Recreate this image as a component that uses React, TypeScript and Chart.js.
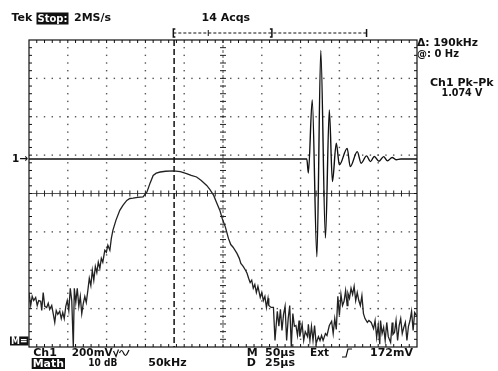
import { useEffect, useRef } from "react";
import { Chart, registerables } from "chart.js";

Chart.register(...registerables);

// ---- Ch1 time trace (µs, mV), 50 µs/div, 200 mV/div ----
const ch1TimeUs = [0, 358, 360, 365, 371, 376, 382, 387, 391, 396, 400, 410, 414, 423, 428, 435, 440, 445, 451, 457, 462, 468, 473, 479, 500];
const ch1mV = [0, 0, -73, 308, -510, 565, -412, 256, -118, 82, -31, 55, -40, 38, -22, 16, -14, 13, -12, 12, -10, 8, -4, 0, 0];

// ---- Math FFT trace (kHz, dB), 50 kHz/div, 10 dB/div ----
const mathKHz = [
  0, 2.2, 4.1, 6.1, 8.6, 10.6, 12.5, 15.1, 16.4, 18.3, 20.3, 22.8, 24.8, 26.7, 29.3, 31.2, 33.2, 35.1, 37.1, 39.6,
  41.6, 43.5, 45.4, 47.4, 49.3, 51.3, 53.2, 55.1, 57.1, 58.4, 60.3, 62.2, 64.2, 66.1, 68.0, 70.0, 71.9, 73.8, 75.8, 77.7,
  79.7, 81.6, 83.5, 85.5, 87.4, 89.3, 91.3, 93.2, 95.1, 97.7, 99.7, 101.6, 104.2, 106.1, 108.1, 112, 117, 121, 126, 130,
  134, 140, 147, 152, 156, 160, 164, 169, 176, 186, 195, 203, 209, 216, 222, 229, 233, 238, 241, 246,
  249, 253, 257, 260, 263, 268, 271, 273, 276, 279, 281, 283, 285, 287, 289, 291, 293, 295, 298, 300,
  302, 304, 306, 308, 309, 312, 315, 317, 319, 320, 322, 324, 326, 328, 330, 332, 334, 336, 338, 340,
  342, 344, 346, 348, 349, 352, 354, 356, 359, 360, 362, 364, 366, 368, 370, 373, 375, 377, 379, 382,
  384, 387, 390, 392, 394, 396, 398, 400, 402, 404, 406, 408, 410, 411, 413, 415, 417, 419, 421, 423,
  425, 427, 429, 431, 433, 436, 438, 441, 444, 446, 448, 450, 452, 453, 455, 457, 459, 461, 463, 466,
  468, 469, 471, 473, 475, 477, 479, 481, 483, 485, 487, 489, 491, 493, 495, 497, 500,
];
const mathDb = [
  12.5, 9.1, 11.5, 10.4, 11.2, 9.1, 10.4, 10.2, 7.8, 12.5, 8.9, 8.6, 9.7, 8.1, 9.1, 7.0, 4.7, 7.8, 6.8, 7.6,
  5.7, 7.3, 5.7, 8.9, 10.4, 7.8, 13.6, 10.4, -1.8, 13.6, 9.9, 13.6, 8.9, 11.5, 7.0, 9.7, 11.5, 9.9, 13.0, 16.2,
  14.3, 18.3, 15.7, 19.3, 17.7, 20.4, 18.8, 21.4, 20.4, 23.5, 23.0, 24.8, 23.5, 26.6, 28.7, 31.3, 33.9, 35.2, 36.5, 37.0,
  37.1, 37.3, 37.4, 38.7, 41.0, 43.0, 43.6, 43.9, 44.1, 44.2, 44.0, 43.5, 43.0, 42.6, 41.7, 40.4, 39.4, 37.8, 36.3, 33.9,
  31.8, 29.6, 26.6, 25.0, 24.3, 22.7, 21.4, 20.1, 19.3, 18.3, 17.5, 16.2, 15.1, 15.7, 13.6, 14.6, 12.5, 14.1, 11.2, 12.5,
  10.4, 11.5, 8.6, 11.0, 9.1, 8.6, 8.6, 0, 5.2, 7.6, 3.7, 8.1, 2.6, 6.8, 8.9, 0, 5.7, 9.1, -1.6, 7.0,
  3.7, 3.9, 1.3, 5.2, 1.0, 4.2, 0, 2.3, 1.0, 4.2, 0, 3.7, 0, 3.9, -0.8, 1.0, 0, 1.3, 0, 1.8,
  1.3, 3.9, 5.0, 1.8, 5.7, 2.9, 11.5, 6.5, 12.0, 9.1, 10.2, 13.0, 9.1, 12.3, 11.0, 13.6, 12.0, 14.1, 10.4, 12.5,
  10.4, 9.1, 11.7, 7.0, 5.7, 4.7, 5.2, 4.7, 3.1, 5.2, 0.8, 3.9, -1.0, 5.2, 1.8, 3.4, 0, 4.7, 1.0, -0.5,
  4.7, 1.6, 2.1, 5.2, 0, 3.9, 5.7, 1.8, 3.4, 4.7, 0, 3.7, 5.2, 7.6, 2.6, 7.3, 6.3,
];

// ---- Axis ranges (10 div horizontal, 8 div vertical) ----
const timeRangeUs = [0, 500];
const freqRangeKHz = [0, 500];
const ch1RangeMv = [-980, 620];
const mathRangeDb = [-1.7, 78.3];
const cursorKHz = 187;
// record-view bar markers (µs along the record)
const recordBarUs = [186, 231, 313, 435];

const FONT = "bold 11px 'DejaVu Sans', sans-serif";

const scopePlugin = {
  id: "tekScope",
  beforeDatasetsDraw(chart: any) {
    const { ctx, chartArea: a } = chart;
    const L = a.left, R = a.right, T = a.top, B = a.bottom;
    const dx = (R - L) / 10, dy = (B - T) / 8;
    ctx.save();
    ctx.fillStyle = "#555";
    for (let i = 1; i < 10; i++) {
      if (i === 5) continue;
      const x = L + i * dx;
      for (let k = 1; k < 40; k++) ctx.fillRect(x - 0.7, T + (k * dy) / 5 - 0.7, 1.4, 1.4);
    }
    for (let j = 1; j < 8; j++) {
      if (j === 4) continue;
      const y = T + j * dy;
      for (let k = 1; k < 50; k++) ctx.fillRect(L + (k * dx) / 5 - 0.7, y - 0.7, 1.4, 1.4);
    }
    const cx = L + 5 * dx, cy = T + 4 * dy;
    ctx.strokeStyle = "#555";
    ctx.lineWidth = 1;
    ctx.beginPath();
    ctx.moveTo(L, cy); ctx.lineTo(R, cy);
    ctx.stroke();
    ctx.setLineDash([3, 2]);
    ctx.beginPath();
    ctx.moveTo(cx, T); ctx.lineTo(cx, B);
    ctx.stroke();
    ctx.setLineDash([]);
    ctx.strokeStyle = "#222";
    ctx.beginPath();
    for (let k = 1; k < 50; k++) {
      const x = L + (k * dx) / 5;
      ctx.moveTo(x, cy - 3); ctx.lineTo(x, cy + 3);
    }
    for (let k = 1; k < 40; k++) {
      const y = T + (k * dy) / 5;
      ctx.moveTo(cx - 3, y); ctx.lineTo(cx + 3, y);
    }
    ctx.stroke();
    ctx.strokeStyle = "#111";
    ctx.lineWidth = 1.2;
    ctx.strokeRect(L, T, R - L, B - T);
    ctx.lineWidth = 1;
    ctx.beginPath();
    for (let k = 1; k < 50; k++) {
      const x = L + (k * dx) / 5;
      ctx.moveTo(x, T); ctx.lineTo(x, T + 3);
      ctx.moveTo(x, B); ctx.lineTo(x, B - 3);
    }
    for (let k = 1; k < 40; k++) {
      const y = T + (k * dy) / 5;
      ctx.moveTo(L, y); ctx.lineTo(L + 3, y);
      ctx.moveTo(R, y); ctx.lineTo(R - 3, y);
    }
    ctx.stroke();
    const xc = chart.scales.xf.getPixelForValue(cursorKHz);
    ctx.strokeStyle = "#111";
    ctx.lineWidth = 1.5;
    ctx.setLineDash([6, 3]);
    ctx.beginPath();
    ctx.moveTo(xc, T); ctx.lineTo(xc, B);
    ctx.stroke();
    ctx.setLineDash([]);
    ctx.restore();
  },
  afterDraw(chart: any) {
    const { ctx, chartArea: a } = chart;
    const T = a.top;
    const xs = chart.scales.x;
    ctx.save();
    const [b0, bm, b1, b2] = recordBarUs.map((v) => xs.getPixelForValue(v));
    const by = T - 7;
    ctx.strokeStyle = "#111";
    ctx.lineWidth = 1;
    ctx.setLineDash([3, 2]);
    ctx.beginPath();
    ctx.moveTo(b0, by); ctx.lineTo(b2, by);
    ctx.stroke();
    ctx.setLineDash([]);
    ctx.lineWidth = 1.5;
    ctx.beginPath();
    ctx.moveTo(b0 + 2, by - 4); ctx.lineTo(b0, by - 4); ctx.lineTo(b0, by + 4); ctx.lineTo(b0 + 2, by + 4);
    ctx.moveTo(b1 - 2, by - 4); ctx.lineTo(b1, by - 4); ctx.lineTo(b1, by + 4); ctx.lineTo(b1 - 2, by + 4);
    ctx.moveTo(b2, by - 4); ctx.lineTo(b2, by + 4);
    ctx.stroke();
    ctx.lineWidth = 1;
    ctx.beginPath();
    ctx.moveTo(bm, by - 3); ctx.lineTo(bm, by + 3);
    ctx.stroke();

    ctx.font = FONT;
    ctx.textBaseline = "middle";
    ctx.textAlign = "left";
    const txt = (s: string, x: number, y: number, w?: number) => {
      ctx.fillStyle = "#111";
      if (w) ctx.fillText(s, x, y, w); else ctx.fillText(s, x, y);
    };
    const boxed = (s: string, x0: number, x1: number, y0: number, y1: number) => {
      ctx.fillStyle = "#111";
      ctx.fillRect(x0, y0, x1 - x0, y1 - y0);
      ctx.fillStyle = "#fff";
      ctx.fillText(s, x0 + 1, (y0 + y1) / 2 + 0.5, x1 - x0 - 2);
    };
    txt("Tek", 11.5, 18.5);
    boxed("Stop:", 36.5, 68.5, 12.5, 24.5);
    txt("2MS/s", 74, 18.5);
    txt("14 Acqs", 201.5, 18.5);
    txt("\u0394: 190kHz", 417, 43.5, 61);
    txt("@: 0 Hz", 417, 54, 42);
    txt("Ch1 Pk\u2013Pk", 430, 83.5, 64);
    txt("1.074 V", 441.5, 93.5, 41);
    const yg = chart.scales.y.getPixelForValue(0);
    txt("1\u2192", 12, yg, 16);
    const ym = chart.scales.ym.getPixelForValue(0);
    boxed("M=", 10, 28.5, ym - 4, ym + 5);
    const r1 = 352.8, r2 = 363.5;
    txt("Ch1", 33.3, r1);
    txt("200mV", 71.7, r1, 41);
    ctx.strokeStyle = "#111";
    ctx.lineWidth = 1.2;
    ctx.beginPath();
    ctx.moveTo(113.5, 351); ctx.lineTo(116, 356.5); ctx.lineTo(118.5, 349.5);
    ctx.moveTo(119.5, 353);
    ctx.quadraticCurveTo(121.5, 348, 123.5, 353);
    ctx.quadraticCurveTo(125.5, 358, 127.5, 353);
    ctx.lineTo(129, 350);
    ctx.stroke();
    txt("M", 246.7, r1);
    txt("50\u00b5s", 265, r1, 30);
    txt("Ext", 310, r1, 19);
    ctx.beginPath();
    ctx.moveTo(342, 357); ctx.lineTo(346, 357); ctx.lineTo(348, 349); ctx.lineTo(352, 349);
    ctx.stroke();
    txt("172mV", 370, r1, 43);
    boxed("Math", 31.7, 65, 358, 369);
    txt("10 dB", 88.3, r2, 29);
    txt("50kHz", 148.3, r2, 38.5);
    txt("D", 246.7, r2);
    txt("25\u00b5s", 265, r2, 30);
    ctx.restore();
  },
};

export default function App() {
  const ref = useRef<HTMLCanvasElement | null>(null);
  useEffect(() => {
    if (!ref.current) return;
    const chart = new Chart(ref.current, {
      type: "line",
      data: {
        datasets: [
          {
            data: ch1TimeUs.map((t, i) => ({ x: t, y: ch1mV[i] })),
            xAxisID: "x",
            yAxisID: "y",
            borderColor: "#111",
            borderWidth: 1.4,
            pointRadius: 0,
            cubicInterpolationMode: "monotone",
          },
          {
            data: mathKHz.map((f, i) => ({ x: f, y: mathDb[i] })),
            xAxisID: "xf",
            yAxisID: "ym",
            borderColor: "#222",
            borderWidth: 1.3,
            pointRadius: 0,
            tension: 0,
          },
        ],
      },
      options: {
        animation: false,
        responsive: false,
        devicePixelRatio: 1,
        layout: { padding: { left: 29, right: 81, top: 40, bottom: 24 } },
        plugins: { legend: { display: false }, tooltip: { enabled: false }, title: { display: false } },
        scales: {
          x: { type: "linear", display: false, min: timeRangeUs[0], max: timeRangeUs[1] },
          xf: { type: "linear", display: false, min: freqRangeKHz[0], max: freqRangeKHz[1] },
          y: { type: "linear", display: false, min: ch1RangeMv[0], max: ch1RangeMv[1] },
          ym: { type: "linear", display: false, min: mathRangeDb[0], max: mathRangeDb[1] },
        },
      },
      plugins: [scopePlugin],
    });
    return () => chart.destroy();
  }, []);
  return (
    <div style={{ position: "fixed", left: 0, top: 0, width: 498, height: 371, background: "#fff" }}>
      <canvas ref={ref} width={498} height={371} style={{ display: "block" }} />
    </div>
  );
}
